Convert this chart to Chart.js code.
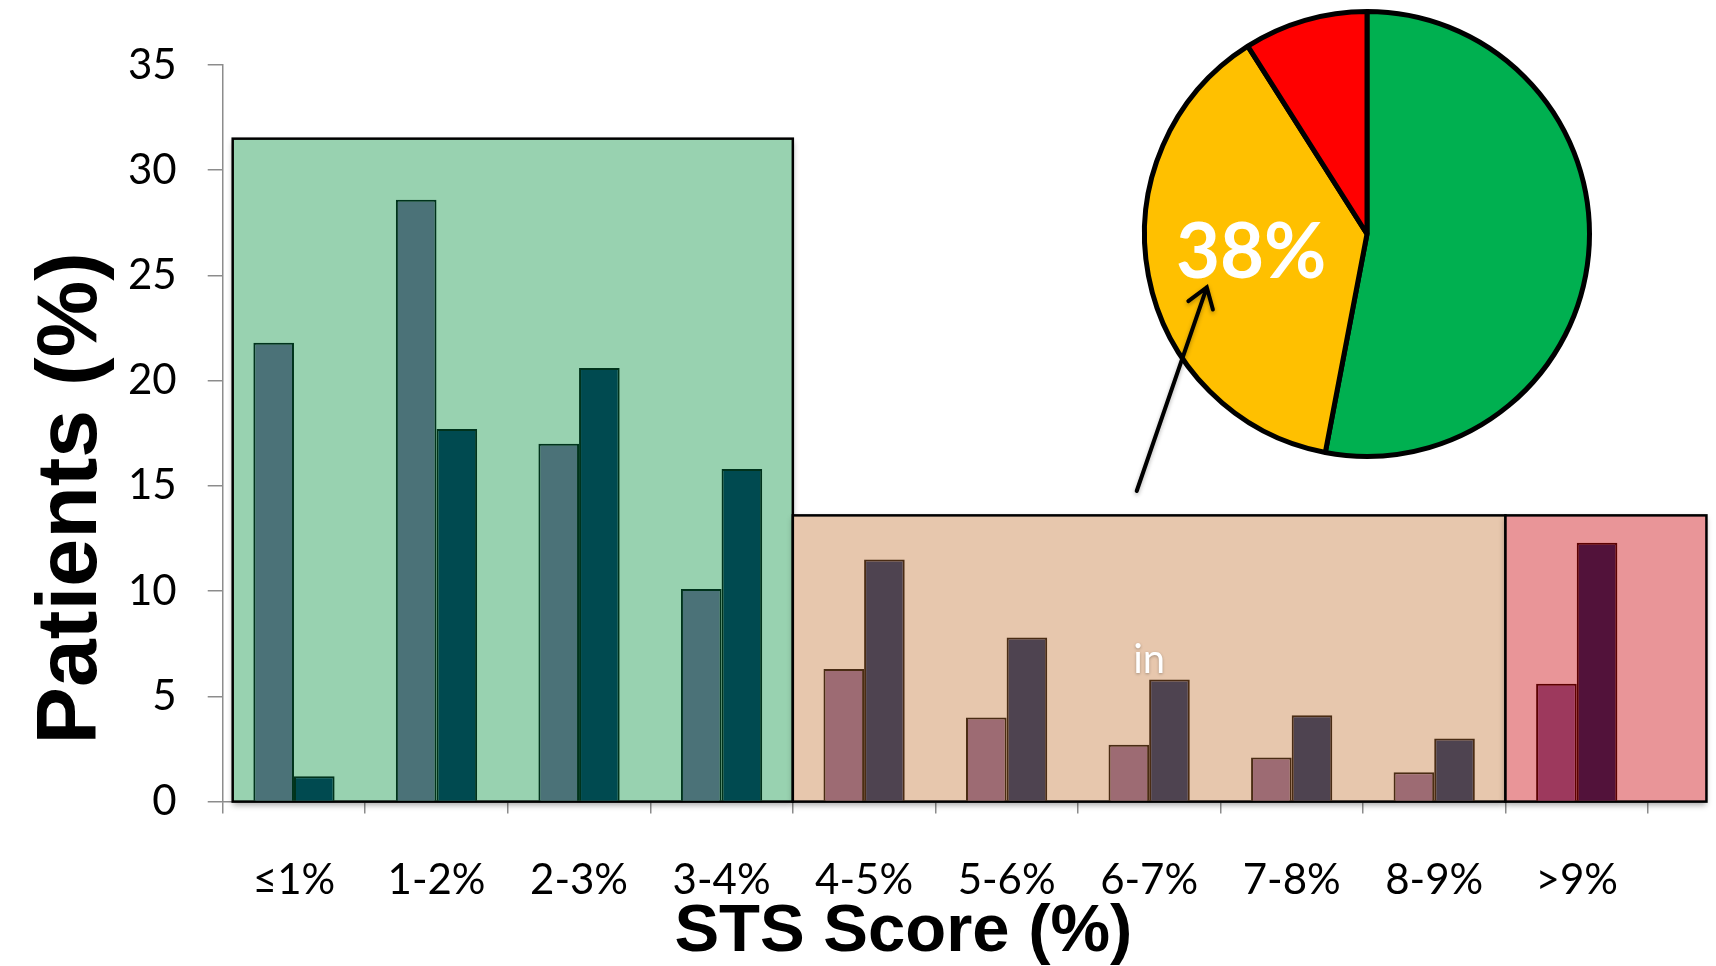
<!DOCTYPE html>
<html>
<head>
<meta charset="utf-8">
<script src="https://cdn.jsdelivr.net/npm/chart.js@4.4.0/dist/chart.umd.min.js"></script>
<style>
  html, body { margin: 0; padding: 0; background: #fff; overflow: hidden; }
  #wrap { position: relative; width: 1716px; height: 966px; }
  #bars { position: absolute; left: 0; top: 0; }
  #pie { position: absolute; left: 1100px; top: 0; }
</style>
</head>
<body>
<div id="wrap">
  <canvas id="bars" width="1716" height="966"></canvas>
  <canvas id="pie" width="616" height="560"></canvas>
</div>
<script>
// STS score distribution, two cohorts
const categories = ['≤1%', '1-2%', '2-3%', '3-4%', '4-5%', '5-6%', '6-7%', '7-8%', '8-9%', '>9%'];
const cohortA = [21.8, 28.6, 17.0, 10.1, 6.3, 4.0, 2.7, 2.1, 1.4, 5.6];
const cohortB = [1.2, 17.7, 20.6, 15.8, 11.5, 7.8, 5.8, 4.1, 3.0, 12.3];
const yTicks = [0, 5, 10, 15, 20, 25, 30, 35];

// risk bands, edges in category units and box height in %
const bandStart = [-0.43, 3.5, 8.5];
const bandEnd = [3.5, 8.5, 9.91];
const bandTop = [31.5, 13.6, 13.6];

// share of patients per risk band
const pieLabels = ['Low', 'Intermediate', 'High'];
const pieShares = [53, 38, 9];

const bandFill = ['#98d2b0', '#e7c7ad', '#e99598'];
const lightBar = ['#4b7278', '#9d6b73', '#9d395d'];
const darkBar = ['#004a50', '#4e4350', '#52123a'];
const barEdge = ['#00331c', '#4a2c14', '#5c0000'];
const axisGrey = '#8c8c8c';

const bandOf = i => bandStart.findIndex((s, b) => i >= s && i < bandEnd[b]);
const bands = categories.map((c, i) => bandOf(i));

const bandBoxes = {
  id: 'bandBoxes',
  beforeDatasetsDraw(chart) {
    const { ctx, scales: { x, y } } = chart;
    const x0 = x.getPixelForValue(0);
    const step = x.getPixelForValue(1) - x0;
    const bottom = y.getPixelForValue(0);
    ctx.save();
    bandStart.forEach((s, b) => {
      const left = x0 + s * step;
      const right = x0 + bandEnd[b] * step;
      const top = y.getPixelForValue(bandTop[b]);
      ctx.shadowColor = 'rgba(0,0,0,0.35)';
      ctx.shadowBlur = 6;
      ctx.shadowOffsetY = 3;
      ctx.fillStyle = bandFill[b];
      ctx.fillRect(left, top, right - left, bottom - top);
      ctx.shadowColor = 'transparent';
      ctx.strokeStyle = '#000';
      ctx.lineWidth = 2.5;
      ctx.strokeRect(left, top, right - left, bottom - top);
    });
    ctx.restore();
  }
};

const axisTitles = {
  id: 'axisTitles',
  afterDraw(chart) {
    const { ctx, chartArea: a, scales: { x, y } } = chart;
    ctx.save();
    ctx.fillStyle = '#000';
    ctx.textAlign = 'center';
    ctx.textBaseline = 'alphabetic';
    ctx.font = 'bold 67px "Liberation Sans"';
    ctx.fillText('STS Score (%)', (a.left + a.right) / 2 - 32, a.bottom + 149);
    ctx.translate(a.left - 127, (a.top + a.bottom) / 2 + 65);
    ctx.rotate(-Math.PI / 2);
    ctx.font = 'bold 86px "Liberation Sans"';
    ctx.fillText('Patients (%)', 0, 0);
    ctx.restore();
    // small note over the 6-7% group
    ctx.save();
    ctx.font = '40px Lato';
    ctx.textAlign = 'center';
    ctx.fillStyle = '#ffffff';
    ctx.shadowColor = 'rgba(0,0,0,0.3)';
    ctx.shadowBlur = 3;
    ctx.shadowOffsetY = 1;
    ctx.fillText('in', x.getPixelForValue(6), y.getPixelForValue(6.1));
    ctx.restore();
  }
};

const tickFont = { family: 'Lato', size: 42 };

new Chart(document.getElementById('bars'), {
  type: 'bar',
  data: {
    labels: categories,
    datasets: [
      {
        data: cohortA,
        backgroundColor: bands.map(b => lightBar[b]),
        borderColor: bands.map(b => barEdge[b]),
        borderWidth: 2,
        categoryPercentage: 0.57,
        barPercentage: 1
      },
      {
        data: cohortB,
        backgroundColor: bands.map(b => darkBar[b]),
        borderColor: bands.map(b => barEdge[b]),
        borderWidth: 2,
        categoryPercentage: 0.57,
        barPercentage: 1
      }
    ]
  },
  options: {
    responsive: false,
    animation: false,
    events: [],
    layout: { padding: { left: 97, right: 68, top: 65, bottom: 18 } },
    plugins: { legend: { display: false }, tooltip: { enabled: false } },
    scales: {
      x: {
        grid: { drawOnChartArea: false, tickLength: 12, color: axisGrey, lineWidth: 1.5 },
        border: { color: axisGrey, width: 1.5 },
        ticks: { font: tickFont, color: '#000', padding: 42, maxRotation: 0, autoSkip: false }
      },
      y: {
        min: 0,
        max: 35,
        afterBuildTicks: s => { s.ticks = yTicks.map(v => ({ value: v })); },
        grid: { drawOnChartArea: false, tickLength: 15, color: axisGrey, lineWidth: 1.5 },
        border: { color: axisGrey, width: 1.5 },
        ticks: { font: tickFont, color: '#000', padding: 31 }
      }
    }
  },
  plugins: [bandBoxes, axisTitles]
});

const pieNotes = {
  id: 'pieNotes',
  afterDatasetsDraw(chart) {
    const { ctx } = chart;
    const arc = chart.getDatasetMeta(0).data[1];
    const p = arc.getProps(['x', 'y', 'outerRadius', 'startAngle', 'endAngle'], true);
    const r = p.outerRadius;
    const mid = (p.startAngle + p.endAngle) / 2;
    ctx.save();
    ctx.font = 'bold 76px Lato';
    ctx.fillStyle = '#fff';
    ctx.textAlign = 'center';
    ctx.textBaseline = 'middle';
    ctx.fillText(pieShares[1] + '%', p.x + Math.cos(mid) * r * 0.53, p.y + Math.sin(mid) * r * 0.46);
    // arrow from the intermediate band up to the label
    const tipX = p.x - 0.72 * r, tipY = p.y + 0.24 * r;
    const tailX = p.x - 1.035 * r, tailY = p.y + 1.155 * r;
    const ang = Math.atan2(tipY - tailY, tipX - tailX);
    ctx.strokeStyle = '#000';
    ctx.lineWidth = 4;
    ctx.lineCap = 'round';
    ctx.shadowColor = 'rgba(0,0,0,0.3)';
    ctx.shadowBlur = 4;
    ctx.shadowOffsetY = 2;
    ctx.beginPath();
    ctx.moveTo(tailX, tailY);
    ctx.lineTo(tipX, tipY);
    ctx.moveTo(tipX - 23 * Math.cos(ang - 0.6), tipY - 23 * Math.sin(ang - 0.6));
    ctx.lineTo(tipX, tipY);
    ctx.lineTo(tipX - 23 * Math.cos(ang + 0.6), tipY - 23 * Math.sin(ang + 0.6));
    ctx.stroke();
    ctx.restore();
  }
};

new Chart(document.getElementById('pie'), {
  type: 'pie',
  data: {
    labels: pieLabels,
    datasets: [{
      data: pieShares,
      backgroundColor: ['#00b050', '#ffc000', '#ff0000'],
      borderColor: '#000',
      borderWidth: 5,
      hoverOffset: 0
    }]
  },
  options: {
    responsive: false,
    animation: false,
    events: [],
    layout: { padding: { left: 42, right: 124, top: 9, bottom: 101 } },
    plugins: { legend: { display: false }, tooltip: { enabled: false } }
  },
  plugins: [pieNotes]
});
</script>
</body>
</html>
